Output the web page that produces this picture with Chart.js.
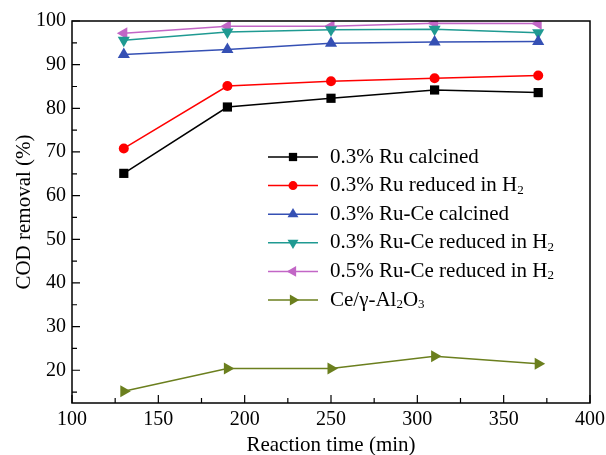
<!DOCTYPE html>
<html>
<head>
<meta charset="utf-8">
<script src="https://cdn.jsdelivr.net/npm/chart.js@4.4.1/dist/chart.umd.min.js"></script>
<style>
html,body{margin:0;padding:0;background:#fff;}
#wrap{width:606px;height:455px;}
</style>
</head>
<body>
<div id="wrap"><canvas id="c" width="606" height="455"></canvas></div>
<script>
const times = [130, 190, 250, 310, 370];
const ruCalcined = [65.1, 80.3, 82.3, 84.2, 83.6];
const ruReduced = [70.8, 85.1, 86.2, 86.9, 87.5];
const ruCeCalcined = [92.3, 93.5, 94.9, 95.2, 95.3];
const ruCeReduced = [95.6, 97.5, 98.0, 98.1, 97.3];
const ru05CeReduced = [97.2, 98.8, 98.8, 99.5, 99.4];
const ceAl = [15.2, 20.4, 20.4, 23.2, 21.5];
const seriesLabels = ['0.3% Ru calcined', '0.3% Ru reduced in H₂', '0.3% Ru-Ce calcined', '0.3% Ru-Ce reduced in H₂', '0.5% Ru-Ce reduced in H₂', 'Ce/γ-Al₂O₃'];
const xTicks = [100, 150, 200, 250, 300, 350, 400];
const xMinor = [125, 175, 225, 275, 325, 375];
const yTicks = [20, 30, 40, 50, 60, 70, 80, 90, 100];
const yMinor = [15, 25, 35, 45, 55, 65, 75, 85, 95];
const xTitle = 'Reaction time (min)';
const yTitle = 'COD removal (%)';

const FONT = "'Liberation Serif', 'Times New Roman', serif";

const styles = [
  {color:'#000000', point:'rect', r:6.5, rot:0},
  {color:'#ff0000', point:'circle', r:5, rot:0},
  {color:'#3550b4', point:'triangle', r:7, rot:0},
  {color:'#1f9a92', point:'triangle', r:7, rot:180},
  {color:'#c266c6', point:'triangle', r:7, rot:270},
  {color:'#6b7f1e', point:'triangle', r:7, rot:90}
];
const seriesData = [ruCalcined, ruReduced, ruCeCalcined, ruCeReduced, ru05CeReduced, ceAl];

const datasets = seriesData.map((vals, i) => ({
  label: seriesLabels[i],
  data: times.map((t, j) => ({x: t, y: vals[j]})),
  borderColor: styles[i].color,
  backgroundColor: styles[i].color,
  borderWidth: 1.5,
  pointStyle: styles[i].point,
  pointRadius: styles[i].r,
  pointRotation: styles[i].rot,
  pointBorderWidth: 0,
  pointHoverRadius: styles[i].r,
  tension: 0
}));

function drawRich(ctx, text, x, y, size) {
  const subMap = {'₂':'2','₃':'3'};
  let cx = x;
  for (const ch of text) {
    if (subMap[ch]) {
      ctx.font = (size*0.62) + 'px ' + FONT;
      ctx.fillText(subMap[ch], cx, y + size*0.22);
      cx += ctx.measureText(subMap[ch]).width;
    } else {
      ctx.font = size + 'px ' + FONT;
      ctx.fillText(ch, cx, y);
      cx += ctx.measureText(ch).width;
    }
  }
}

const framePlugin = {
  id: 'frame',
  afterDraw(chart) {
    const ctx = chart.ctx;
    const a = chart.chartArea;
    const xs = chart.scales.x, ys = chart.scales.y;
    ctx.save();
    ctx.strokeStyle = '#000';
    ctx.lineWidth = 1.5;
    ctx.strokeRect(a.left, a.top, a.right - a.left, a.bottom - a.top);
    ctx.lineWidth = 1.2;
    ctx.beginPath();
    xTicks.forEach(v => { const p = xs.getPixelForValue(v); ctx.moveTo(p, a.bottom); ctx.lineTo(p, a.bottom - 8); });
    xMinor.forEach(v => { const p = xs.getPixelForValue(v); ctx.moveTo(p, a.bottom); ctx.lineTo(p, a.bottom - 5); });
    yTicks.forEach(v => { const p = ys.getPixelForValue(v); ctx.moveTo(a.left, p); ctx.lineTo(a.left + 8, p); });
    yMinor.forEach(v => { const p = ys.getPixelForValue(v); ctx.moveTo(a.left, p); ctx.lineTo(a.left + 5, p); });
    ctx.stroke();

    // axis titles
    ctx.fillStyle = '#000';
    ctx.font = '21px ' + FONT;
    ctx.textAlign = 'center';
    ctx.textBaseline = 'alphabetic';
    ctx.fillText(xTitle, (a.left + a.right) / 2, 451);
    ctx.save();
    ctx.translate(30, (a.top + a.bottom) / 2);
    ctx.rotate(-Math.PI / 2);
    ctx.fillText(yTitle, 0, 0);
    ctx.restore();

    // legend
    ctx.textAlign = 'left';
    ctx.textBaseline = 'middle';
    const lx0 = 268, lx1 = 318, tx = 330, y0 = 157, dy = 28.6;
    chart.data.datasets.forEach((ds, i) => {
      const y = y0 + i * dy;
      ctx.strokeStyle = ds.borderColor;
      ctx.lineWidth = 1.5;
      ctx.beginPath(); ctx.moveTo(lx0, y); ctx.lineTo(lx1, y); ctx.stroke();
      ctx.fillStyle = ds.backgroundColor;
      Chart.helpers.drawPoint(ctx, {pointStyle: ds.pointStyle, radius: ds.pointRadius * 0.9, rotation: ds.pointRotation, borderWidth: 0}, (lx0 + lx1) / 2, y);
      ctx.fillStyle = '#000';
      drawRich(ctx, ds.label, tx, y, 21);
    });
    ctx.restore();
  }
};

new Chart(document.getElementById('c'), {
  type: 'line',
  data: {datasets},
  plugins: [framePlugin],
  options: {
    responsive: false,
    animation: false,
    events: [],
    layout: {padding: {top: 21, right: 16, left: 0, bottom: 0}},
    plugins: {legend: {display: false}, tooltip: {enabled: false}},
    scales: {
      x: {
        type: 'linear', min: 100, max: 400,
        afterBuildTicks: s => { s.ticks = xTicks.map(v => ({value: v})); },
        afterFit: s => { s.height = 52; s.paddingLeft = 0; s.paddingRight = 0; },
        grid: {display: false, drawTicks: false},
        border: {display: false},
        ticks: {color: '#000', padding: 5, font: {family: FONT, size: 20}, maxRotation: 0, autoSkip: false}
      },
      y: {
        type: 'linear', min: 12.5, max: 100,
        afterBuildTicks: s => { s.ticks = yTicks.map(v => ({value: v})); },
        afterFit: s => { s.width = 72; s.paddingTop = 0; s.paddingBottom = 0; },
        grid: {display: false, drawTicks: false},
        border: {display: false},
        ticks: {color: '#000', padding: 6, font: {family: FONT, size: 20}, autoSkip: false}
      }
    }
  }
});
</script>
</body>
</html>
